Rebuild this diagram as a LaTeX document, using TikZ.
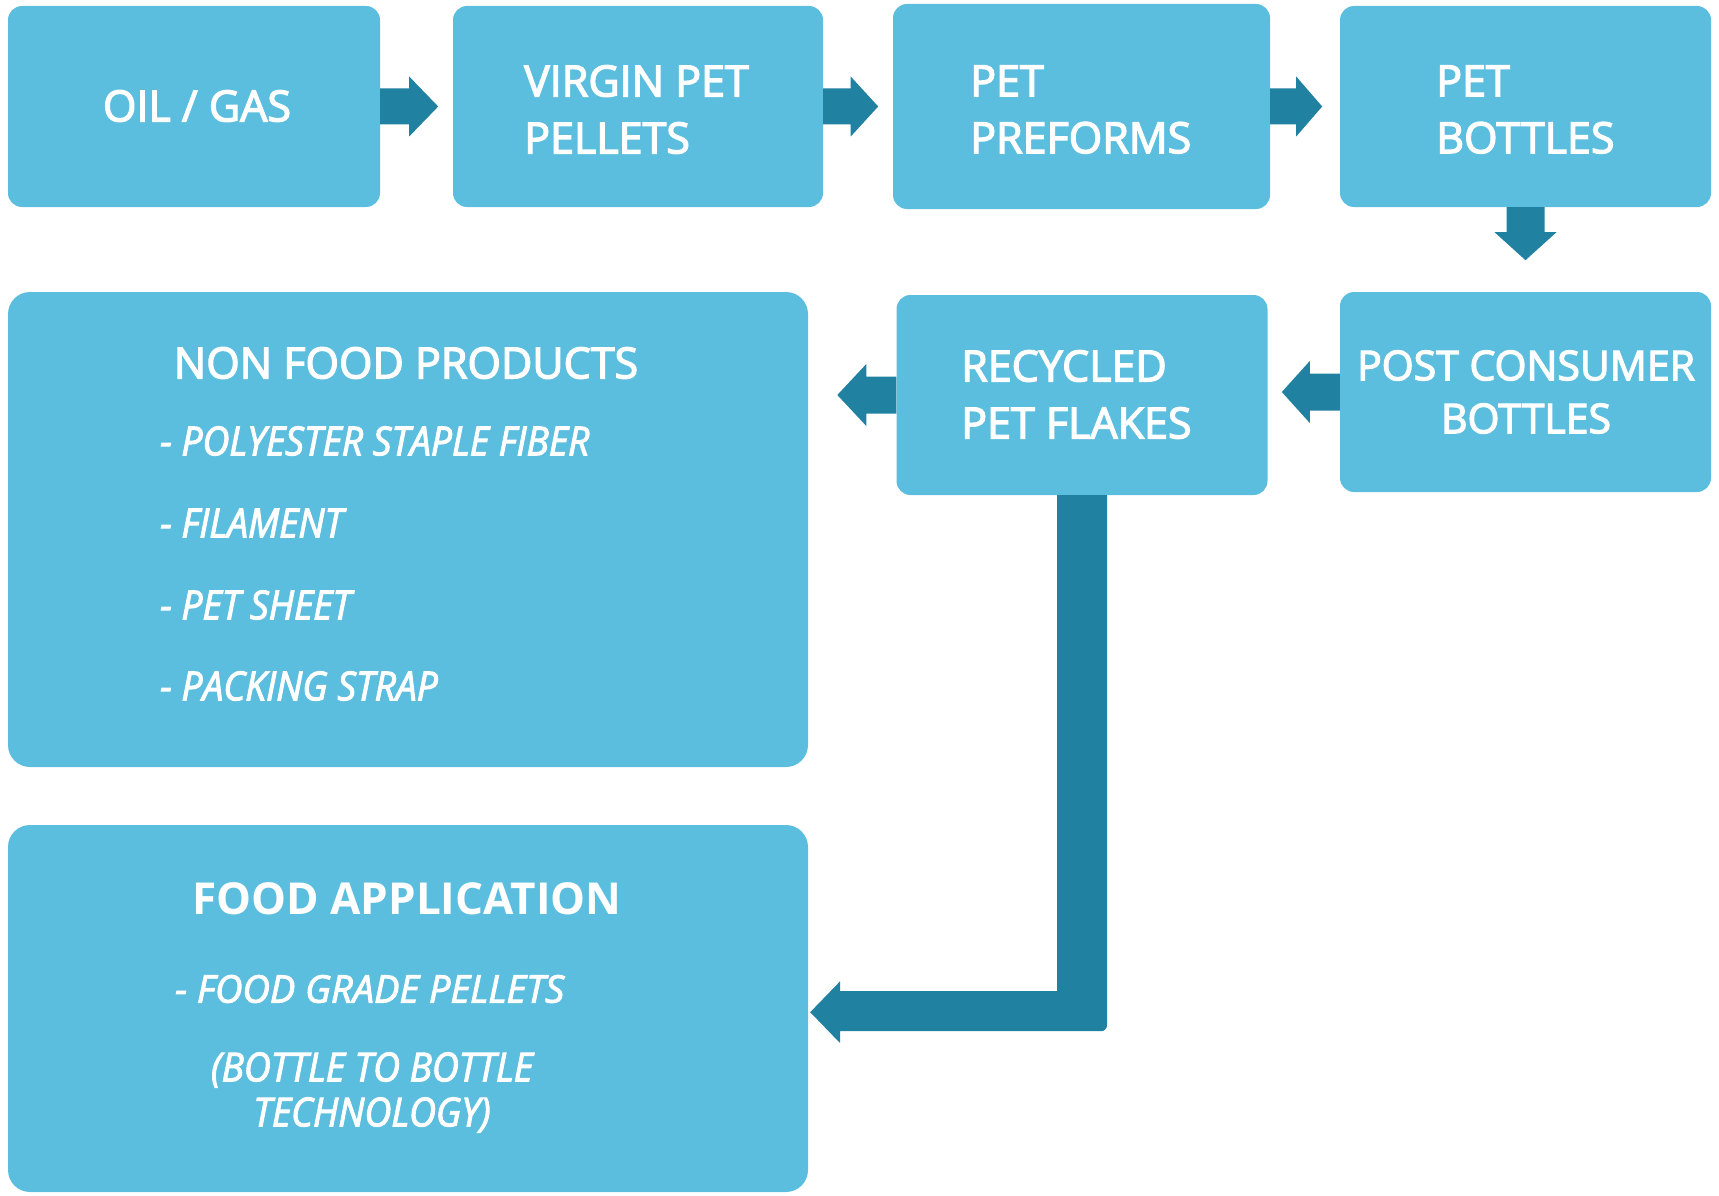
\documentclass[tikz,border=0pt]{standalone}
\usepackage{fontspec}
\setmainfont{Open Sans}
\usetikzlibrary{calc}
\definecolor{boxblue}{HTML}{5CBEDE}
\definecolor{flowteal}{HTML}{2181A0}
\newfontfamily\semibold{Open Sans}[UprightFeatures={FakeBold=3}]
\newfontfamily\narrowit{Open Sans Italic}[UprightFeatures={FakeStretch=0.93,FakeBold=2.5}]
\newfontfamily\plainit{Open Sans Italic}[UprightFeatures={FakeBold=2.5}]
\begin{document}
\begin{tikzpicture}[x=1pt,y=-1pt,
  stage/.style={fill=boxblue,draw=none,rounded corners=14pt,inner sep=0pt},
  group/.style={fill=boxblue,draw=none,rounded corners=22pt,inner sep=0pt},
  label/.style={text=white,inner sep=0pt,font=\semibold\fontsize{43}{57}\selectfont},
  item/.style={text=white,inner sep=0pt,anchor=west,font=\narrowit\fontsize{40}{45}\selectfont},
  flow/.style={fill=flowteal,draw=none}]
\useasboundingbox (0,0) rectangle (1719,1196);

% process stages
\node[stage,minimum width=372pt,minimum height=201pt] (oil) at (194,106.5) {};
\node[stage,minimum width=370pt,minimum height=201pt] (virgin) at (638,106.5) {};
\node[stage,minimum width=377pt,minimum height=205pt] (preform) at (1081.5,106.5) {};
\node[stage,minimum width=371pt,minimum height=201pt] (bottle) at (1525.5,106.5) {};
\node[stage,minimum width=371pt,minimum height=200pt] (postc) at (1525.5,392) {};
\node[stage,minimum width=371pt,minimum height=200pt] (flakes) at (1082,395) {};
\node[group,minimum width=800pt,minimum height=475pt] (nonfood) at (408,529.5) {};
\node[group,minimum width=800pt,minimum height=367pt] (food) at (408,1008.5) {};

% stage labels
\node[label] (toil) at (197,106) {OIL / GAS};
\node[label,anchor=west,align=left] (tvirgin) at (524,109.5) {VIRGIN PET\\PELLETS};
\node[label,anchor=west,align=left] (tpreform) at (970,109.5) {PET\\PREFORMS};
\node[label,anchor=west,align=left] (tbottle) at (1436,109.5) {PET\\BOTTLES};
\node[label,anchor=west,align=left] (tflakes) at (961,394.5) {RECYCLED\\PET FLAKES};
\node[label,align=center,font=\semibold\fontsize{41}{53}\selectfont] (tpostc) at (1526,392) {POST CONSUMER\\BOTTLES};

% product groups
\node[label] (tnonfood) at (406,363) {NON FOOD PRODUCTS};
\node[item] (i1) at (160,441) {- POLYESTER STAPLE FIBER};
\node[item] (i2) at (160,523) {- FILAMENT};
\node[item] (i3) at (160,605) {- PET SHEET};
\node[item] (i4) at (160,686) {- PACKING STRAP};

\node[label,font=\bfseries\fontsize{44}{57}\selectfont] (tfood) at (407,899) {FOOD APPLICATION};
\node[item,font=\plainit\fontsize{38}{45}\selectfont] (f1) at (175,989) {- FOOD GRADE PELLETS};
\node[item,anchor=center,align=center] (f2) at (372,1092.5) {(BOTTLE TO BOTTLE\\TECHNOLOGY)};

% block arrows along the top row
\foreach \a/\len in {oil/58,virgin/55,preform/52}{
  \fill[flow] ($(\a.east)+(0,-18)$) -- ++(\len/2,0) -- ++(0,-12)
    -- ($(\a.east)+(\len,0)$) -- ($(\a.east)+(\len/2,30)$) -- ++(0,-12)
    -- ($(\a.east)+(0,18)$) -- cycle;
}

% bottles down to post consumer
\fill[flow] ($(bottle.south)+(-19,0)$) -- ++(0,25) -- ++(-12,0)
  -- ($(bottle.south)+(0,53)$) -- ($(bottle.south)+(31,25)$) -- ++(-12,0)
  -- ($(bottle.south)+(19,0)$) -- cycle;

% leftward arrows in the middle row
\fill[flow] ($(postc.west)+(0,-18.5)$) -- ++(-30,0) -- ++(0,-12.5)
  -- ($(postc.west)+(-58,0)$) -- ($(postc.west)+(-30,31)$) -- ++(0,-12.5)
  -- ($(postc.west)+(0,18.5)$) -- cycle;
\fill[flow] ($(flakes.west)+(0,-18.5)$) -- ++(-30,0) -- ++(0,-12.5)
  -- ($(flakes.west)+(-59,0)$) -- ($(flakes.west)+(-30,31)$) -- ++(0,-12.5)
  -- ($(flakes.west)+(0,18.5)$) -- cycle;

% recycled flakes down and round to food application
\coordinate (bend) at ($(flakes.south)+(0,516)$);
\fill[flow] ($(flakes.south)+(-25,0)$) -- ($(flakes.south)+(25,0)$)
  [rounded corners=6pt] -- ($(bend)+(25,20)$) [sharp corners]
  -- ($(food.east |- bend)+(32,20)$) -- ++(0,12)
  -- ($(food.east |- bend)+(2,1)$) -- ($(food.east |- bend)+(32,-30)$) -- ++(0,10)
  -- ($(bend)+(-25,-20)$) -- cycle;
\end{tikzpicture}
\end{document}
